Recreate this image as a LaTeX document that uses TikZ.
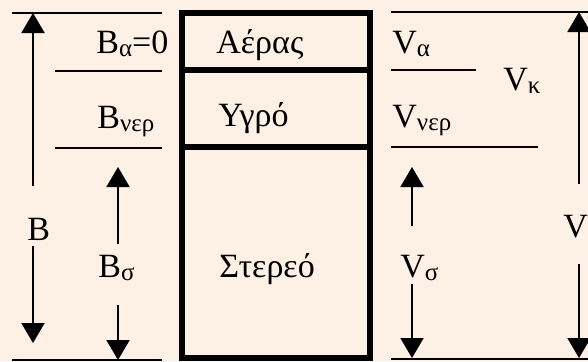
\documentclass[tikz,border=0pt]{standalone}
\usepackage{fontspec}
\setmainfont{Liberation Serif}
\usetikzlibrary{arrows.meta}
\definecolor{paper}{HTML}{FDF1E6}
\newcommand{\idx}[1]{\raisebox{-0.25ex}{\fontsize{12.5}{14}\selectfont #1}}

\begin{document}
\begin{tikzpicture}[x=0.5pt, y=-0.5pt,
        lbl/.style={anchor=base west, inner sep=1pt, font=\fontsize{17}{20}\selectfont},
        level/.style={line width=1.2pt},
        wall/.style={line width=3pt},
        arrow/.style={-{Triangle[width=11.5pt, length=10pt]}, line width=1pt}]

    \fill[paper] (0,0) rectangle (588,361);
    \useasboundingbox (0,0) rectangle (588,361);

    % the vessel with the three phases
    \draw[wall] (182,12.5) rectangle (370,358);
    \draw[wall] (182,70) -- (370,70);
    \draw[wall] (182,147) -- (370,147);
    \node (air) [lbl] at (214,53) {Αέρας};
    \node (liquid) [lbl] at (216,126) {Υγρό};
    \node (solid) [lbl] at (217,277) {Στερεό};

    % weights, left
    \draw[level] (12,13) -- (162,13);
    \draw[level] (55,71) -- (162,71);
    \draw[level] (55,148) -- (162,148);
    \draw[level] (12,360) -- (162,360);
    \node (Ba) [lbl] at (94,53) {B\idx{α}=0};
    \node (Bw) [lbl] at (95,128) {B\idx{νερ}};
    \node (B) [lbl] at (25,240) {B};
    \node (Bs) [lbl] at (96,277) {B\idx{σ}};

    \coordinate (Bup) at (33,13);
    \coordinate (Bdown) at (33,343);
    \coordinate (Bsup) at (118,167);
    \coordinate (Bsdown) at (118,360);
    \draw[arrow, shorten <=14.5pt] (B.north -| Bup) -- (Bup);
    \draw[arrow, shorten <=1.5pt] (B.south -| Bdown) -- (Bdown);
    \draw[arrow, shorten <=4pt] (Bs.north -| Bsup) -- (Bsup);
    \draw[arrow, shorten <=10.5pt] (Bs.south -| Bsdown) -- (Bsdown);

    % volumes, right
    \draw[level] (391,12) -- (588,12);
    \draw[level] (391,70) -- (476,70);
    \draw[level] (391,147) -- (538,147);
    \draw[level] (391,359) -- (588,359);
    \node (Va) [lbl] at (390,53) {V\idx{α}};
    \node (Vk) [lbl] at (501,90) {V\idx{κ}};
    \node (Vw) [lbl] at (390,127) {V\idx{νερ}};
    \node (Vs) [lbl] at (398,277) {V\idx{σ}};
    \node (V) [lbl] at (561,237) {V};

    \coordinate (Vsup) at (412,167);
    \coordinate (Vsdown) at (412,358);
    \coordinate (Vup) at (579,12);
    \coordinate (Vdown) at (579,358);
    \draw[arrow, shorten <=13pt] (Vs.north -| Vsup) -- (Vsup);
    \draw[arrow] (Vs.south -| Vsdown) -- (Vsdown);
    \draw[arrow, shorten <=14pt] (V.north -| Vup) -- (Vup);
    \draw[arrow, shorten <=12pt] (V.south -| Vdown) -- (Vdown);
\end{tikzpicture}
\end{document}
